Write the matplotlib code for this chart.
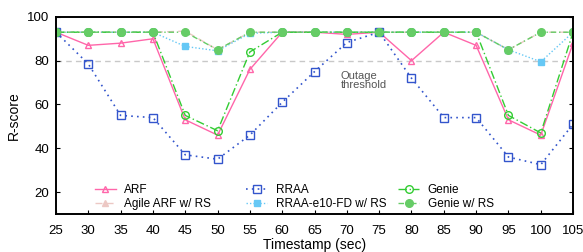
import matplotlib
matplotlib.use('Agg')
import matplotlib.pyplot as plt

plt.rcParams['font.family'] = ['Liberation Sans', 'DejaVu Sans']

t = [25, 30, 35, 40, 45, 50, 55, 60, 65, 70, 75, 80, 85, 90, 95, 100, 105]
arf = [93, 87, 88, 90, 53, 46, 76, 93, 93, 92, 93, 80, 93, 87, 53, 46, 88]
agile_arf = [93, 93, 93, 93, 93.5, 85, 93, 93, 93, 93, 93, 93, 93, 93, 85, 93, 93]
rraa = [93, 78.5, 55, 54, 37, 35, 46, 61, 75, 88.3, 93, 72, 54, 54, 36, 32.5, 51]
rraa_fd = [93, 93, 93, 93, 86.5, 84.5, 92.5, 93, 93, 93, 93, 93, 93, 93, 85, 79.5, 93]
genie = [93, 93, 93, 93, 55, 48, 84, 93, 93, 93, 93, 93, 93, 93, 55, 47, 93]
genie_rs = [93, 93, 93, 93, 93, 85, 93, 93, 93, 93, 93, 93, 93, 93, 85, 93, 93]
threshold = 80

fig = plt.figure(figsize=(5.83, 2.52), dpi=100)
ax = fig.add_axes([0.096, 0.151, 0.887, 0.782])

ax.axhline(threshold, color='#c8c8c8', ls='--', lw=1, dashes=(4, 3), zorder=1)
ax.text(69, 71, 'Outage\nthreshold', fontsize=8, color='#555555', va='center', linespacing=0.95)

l1, = ax.plot(t, arf, color='#ff66aa', ls='-', lw=1, marker='^', mfc='none', ms=5, label='ARF')
l2, = ax.plot(t, agile_arf, color='#ecc8c4', ls=(0, (5, 3)), lw=1, marker='^', ms=5, label='Agile ARF w/ RS')
l3, = ax.plot(t, rraa, color='#3355cc', ls=(0, (1, 2.5)), lw=1.2, marker='s', mfc='none', ms=5.5, label='RRAA')
l4, = ax.plot(t, rraa_fd, color='#66c8f5', ls=(0, (1, 1.5)), lw=1, marker='s', ms=4.5, label='RRAA-e10-FD w/ RS')
l5, = ax.plot(t, genie, color='#33cc33', ls=(0, (6, 2, 1, 2)), lw=1, marker='o', mfc='none', ms=5.5, label='Genie')
l6, = ax.plot(t, genie_rs, color='#66cc66', ls=(0, (4, 2, 1, 2)), lw=1, marker='o', ms=5.5, label='Genie w/ RS')

ax.set_xlim(25, 105)
ax.set_ylim(10, 100)
ax.set_xticks(t)
ax.set_yticks([20, 40, 60, 80, 100])
ax.tick_params(axis='both', direction='in', labelsize=9.5, length=3)
ax.tick_params(axis='x', pad=8)
ax.tick_params(axis='y', right=True, pad=5)
for s in ax.spines.values():
    s.set_linewidth(1.4)

ax.set_ylabel('R-score', fontsize=10)
ax.set_xlabel('Timestamp (sec)', fontsize=10, labelpad=1)

# three legend columns placed like the original
cols = [([l1, l2], 0.054), ([l3, l4], 0.347), ([l5, l6], 0.641)]
for i, (handles, x0) in enumerate(cols):
    leg = ax.legend(handles=handles, loc='lower left', bbox_to_anchor=(x0, -0.035), frameon=False,
                    fontsize=8.5, handlelength=1.8, labelspacing=0.15, handletextpad=0.7)
    if i < len(cols) - 1:
        ax.add_artist(leg)

fig.savefig('out.png', dpi=100)
